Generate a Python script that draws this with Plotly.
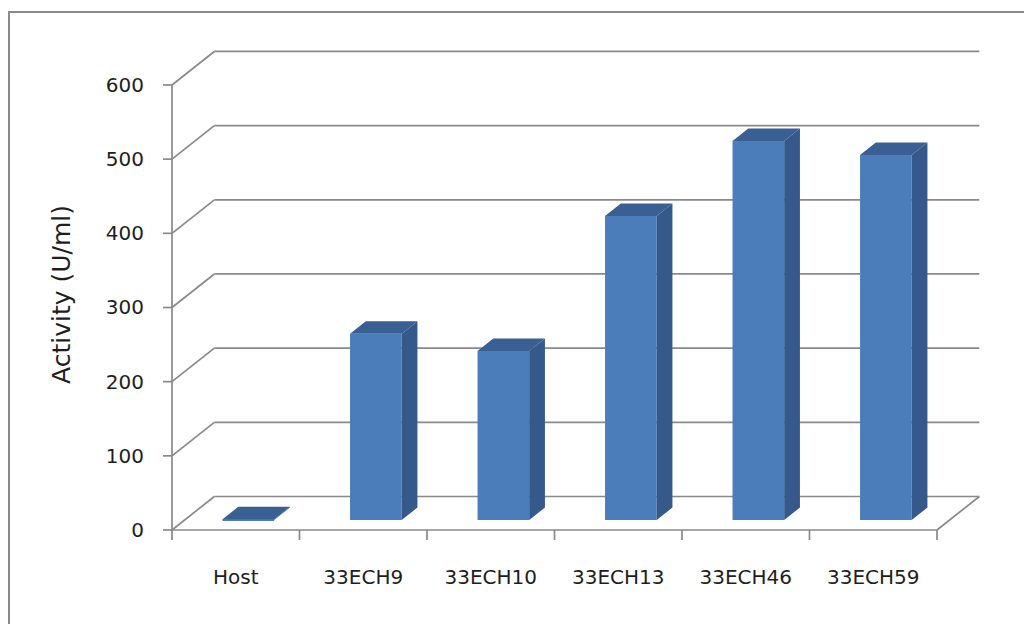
import plotly.graph_objects as go

# ---- data ----
categories = ["Host", "33ECH9", "33ECH10", "33ECH13", "33ECH46", "33ECH59"]
activity = [1, 251, 228, 410, 511, 492]
y_ticks = [0, 100, 200, 300, 400, 500, 600]
y_title = "Activity (U/ml)"

# ---- style / geometry (oblique 3D projection in data units) ----
FRONT = "#4A7DBA"
SIDE = "#34598A"
TOP = "#3A6093"
GRID = "#8a8a8a"
TEXT = "#1e1e1e"
FONT = "DejaVu Sans"

DX, DY = 0.332, 45.2       # depth offset of back wall (x units, value units)
FA, FB = 0.298, 0.67       # bar front/back depth fractions
HW = 0.2025                # bar half width

n = len(categories)
xs = list(range(n))
x_lo, x_hi = -0.5, n - 0.5
v_max = y_ticks[-1]

fig = go.Figure()

# front faces
fig.add_trace(go.Bar(
    x=[i + FA * DX for i in xs], y=activity, base=[FA * DY] * n, width=2 * HW,
    marker=dict(color=FRONT, line=dict(width=0)), hoverinfo="skip", showlegend=False,
))

shapes = []
def line(x0, y0, x1, y1, layer="below", color=GRID, width=1.7):
    shapes.append(dict(type="line", xref="x", yref="y", x0=x0, y0=y0, x1=x1, y1=y1,
                       line=dict(color=color, width=width), layer=layer))

def poly(pts, color):
    path = "M " + " L ".join(f"{a},{b}" for a, b in pts) + " Z"
    shapes.append(dict(type="path", xref="x", yref="y", path=path,
                       fillcolor=color, line=dict(width=0), layer="above"))

# back wall gridlines and left wall slants
for v in y_ticks:
    line(x_lo + DX, v + DY, x_hi + DX, v + DY)
    line(x_lo, v, x_lo + DX, v + DY)
    # y tick marks
    line(x_lo - 9 / 127.5, v, x_lo, v)
# front vertical axis
line(x_lo, 0, x_lo, v_max)
# floor
line(x_lo, 0, x_hi, 0)
line(x_hi, 0, x_hi + DX, DY)
# x tick marks at category boundaries
for k in range(n + 1):
    b = x_lo + k
    line(b, 0, b, -10 / 0.7417)

# bar top and side faces
for i, v in zip(xs, activity):
    xl, xr = i - HW, i + HW
    poly([(xl + FA * DX, v + FA * DY), (xr + FA * DX, v + FA * DY),
          (xr + FB * DX, v + FB * DY), (xl + FB * DX, v + FB * DY)], TOP)
    poly([(xr + FA * DX, FA * DY), (xr + FB * DX, FB * DY),
          (xr + FB * DX, v + FB * DY), (xr + FA * DX, v + FA * DY)], SIDE)

# chart border (extends beyond page on right/bottom)
L, R, T, B = 155, 995, 40, 545
W, H = R - L, B - T
shapes.append(dict(type="rect", xref="paper", yref="paper",
                   x0=(9 - L) / W, y0=-0.5, x1=1.2, y1=(B - 12) / H,
                   line=dict(color="#8a8a8a", width=2), fillcolor="rgba(0,0,0,0)", layer="below"))

fig.update_layout(
    width=1024, height=624,
    margin=dict(l=L, r=1024 - R, t=T, b=624 - B),
    paper_bgcolor="white", plot_bgcolor="white",
    font=dict(family=FONT, size=20, color=TEXT),
    shapes=shapes,
    showlegend=False,
    xaxis=dict(
        range=[(L - 172) / 127.5 - 0.5, (R - 172) / 127.5 - 0.5],
        tickvals=xs, ticktext=categories, ticks="", showgrid=False, zeroline=False,
        showline=False, ticklabelstandoff=18, fixedrange=True,
    ),
    yaxis=dict(
        range=[(530 - B) / 0.7417, (530 - T) / 0.7417],
        tickvals=y_ticks, ticks="", showgrid=False, zeroline=False, showline=False,
        ticklabelstandoff=10, fixedrange=True,
    ),
    annotations=[dict(
        text=y_title, xref="paper", yref="paper", x=(61 - L) / W, y=(B - 295) / H,
        showarrow=False, textangle=-90, font=dict(size=25, family=FONT, color=TEXT),
        xanchor="center", yanchor="middle",
    )],
)

fig.write_html("out.html")
